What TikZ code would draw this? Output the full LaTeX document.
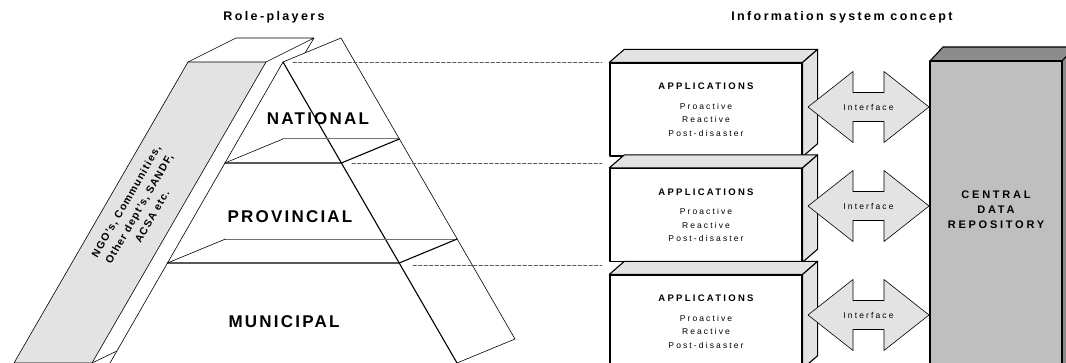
\documentclass[tikz,border=0pt]{standalone}
\usepackage{fontspec}
\setmainfont{Liberation Sans}
\usetikzlibrary{calc}
\begin{document}
\begin{tikzpicture}[x=1pt,y=-1pt,line join=round,line cap=round,
	wire/.style={line width=0.6pt},
	heavy/.style={line width=1.1pt},
	dashline/.style={draw=black!65,line width=0.8pt,dash pattern=on 3.5pt off 2pt},
	title/.style={font=\fontsize{12.5}{14}\selectfont\bfseries\addfontfeature{LetterSpace=19}},
	level/.style={font=\fontsize{17}{19}\selectfont\bfseries\addfontfeature{LetterSpace=13}},
	small/.style={font=\fontsize{8.5}{13.5}\selectfont\addfontfeature{LetterSpace=25}},
	appbox/.style={draw,line width=1.3pt,fill=white,minimum width=192pt,minimum height=93pt,inner sep=0pt,align=center,small},
	face/.style={draw,line width=1.1pt,fill=black!11},
	iface/.style={draw,line width=0.6pt,fill=black!11}]
	\clip (0,0) rectangle (1066,363);
	% role-players
	\node[title] (rp) at (274,17) {Role-players};
	\node[title] (isc) at (842,17) {Information system concept};
	\filldraw[wire,fill=black!11](188,62)--(266,62)--(92,363)--(14,363)--cycle;
	\draw[wire](188,62)--(236,38)--(314,38)--(266,62) (314,38)--(305,53) (92,363)--(117,351);
	\node[rotate=60,align=center,font=\fontsize{10.5}{15}\selectfont\bfseries\addfontfeature{LetterSpace=11}] (ngo) at (139,209) {NGO's, Communities,\\Other dept's, SANDF,\\ACSA etc.};
	\coordinate (A) at (283,62); \coordinate (BL) at (110,363); \coordinate (BR) at (457,363);
	\coordinate (A2) at (341,38); \coordinate (BR2) at (515,339);
	\draw[wire](BL)--(A)--(A2)--(BR2)--(BR);
	\draw[heavy](A)--(BR);
	\foreach \t in {0.3355,0.6678}{
		\coordinate (L) at ($(A)!\t!(BL)$); \coordinate (R) at ($(A)!\t!(BR)$);
		\draw[draw=black!55,line width=1pt]($(L)+(58,-24)$)--($(R)+(58,-24)$);
		\draw[wire](L)--++(58,-24);
		\draw[heavy](L)--(R)--++(58,-24);
	}
	\node[level] (nat) at (318,119) {NATIONAL};
	\node[level] (prov) at (290,217) {PROVINCIAL};
	\node[level] (mun) at (284,322) {MUNICIPAL};
	% applications
	\foreach \i/\y/\c in {1/109.5/107,2/215/206,3/321.5/315}{
		\node[appbox] (app\i) at (706,\y) {{\fontsize{9.5}{10}\selectfont\bfseries\addfontfeature{LetterSpace=24}APPLICATIONS}\\[6pt]Proactive\\Reactive\\Post-disaster};
		\draw[face](app\i.north west)--++(15,-13)--($(app\i.north east)+(15,-13)$)--(app\i.north east)--cycle;
		\draw[face](app\i.north east)--++(15,-13)--($(app\i.south east)+(15,-13)$)--(app\i.south east)--cycle;
		\draw[iface](868.5,\c)+(-60.5,0)--+(-15.5,-35.5)--+(-15.5,-14.5)--+(15.5,-14.5)--+(15.5,-35.5)--+(60.5,0)--+(15.5,35.5)--+(15.5,14.5)--+(-15.5,14.5)--+(-15.5,35.5)--cycle;
		\node[small] (if\i) at (868.5,\c) {Interface};
	}
	\coordinate (d1) at (602,62); \coordinate (d2) at (602,163); \coordinate (d3) at (602,265);
	\draw[dashline]($(A)+(10,0)$)--(d1) (341,163)++(11,0)--(d2) (399,263)++(14,2)--(d3);
	% repository
	\filldraw[line width=1.1pt,fill=black!45](930,61)--(943,47)--(1075,47)--(1062,61)--cycle (1062,61)--(1075,47)--(1075,380)--(1062,380)--cycle;
	\filldraw[line width=1.1pt,fill=black!25](930,61) rectangle (1062,380);
	\node[align=center,font=\fontsize{11}{15}\selectfont\bfseries\addfontfeature{LetterSpace=25}] (repo) at (996,210) {CENTRAL\\DATA\\REPOSITORY};
\end{tikzpicture}
\end{document}
